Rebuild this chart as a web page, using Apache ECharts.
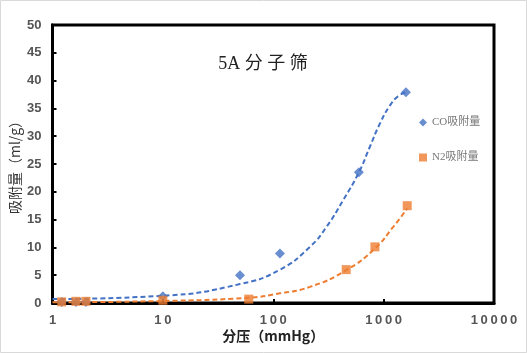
<!DOCTYPE html>
<html><head><meta charset="utf-8">
<script src="https://cdn.jsdelivr.net/npm/echarts@6/dist/echarts.min.js"></script>
<style>html,body{margin:0;padding:0;background:#fff}#c{width:527px;height:353px}</style>
</head><body><div id="c"></div>
<script>
// measured data
const coX = [1.21, 1.63, 2.01, 10, 50, 115, 597, 1592];
const coY = [0.2, 0.2, 0.2, 1.2, 5.0, 8.9, 23.5, 37.9];
const n2X = [1.21, 1.63, 2.01, 10, 60, 458, 834, 1636];
const n2Y = [0.2, 0.3, 0.3, 0.5, 0.7, 6.0, 10.1, 17.5];
// trend curves
const coTrendX = [1, 10, 50, 115, 215, 304, 430, 597, 751, 927, 1140, 1350, 1592];
const coTrendY = [0.7, 1.3, 3.4, 6.0, 10.1, 13.7, 18.5, 23.5, 28.1, 32.3, 35.5, 37.2, 37.9];
const n2TrendX = [1, 10, 60, 115, 215, 458, 834, 1222, 1636];
const n2TrendY = [0.12, 0.36, 0.96, 1.74, 2.9, 5.9, 9.8, 13.7, 17.0];
const xTicks = [1, 10, 100, 1000, 10000];
const yTicks = [0, 5, 10, 15, 20, 25, 30, 35, 40, 45, 50];

const zip = (a, b) => a.map((v, i) => [v, b[i]]);
const chart = echarts.init(document.getElementById('c'));
chart.setOption({
  animation: false,
  graphic: [{ type: 'rect', shape: { x: 0.5, y: 0.5, width: 526, height: 352 },
    style: { fill: 'none', stroke: '#d9d9d9', lineWidth: 1 }, z: 100 }],
  title: {
    text: '5A 分 子 筛', left: 258, top: 50, textAlign: 'center',
    textStyle: { fontFamily: 'Liberation Serif, Noto Sans CJK SC', fontSize: 18, fontWeight: 'normal', color: '#222' }
  },
  legend: {
    left: 414, top: 112, orient: 'vertical', itemGap: 24, itemWidth: 8, itemHeight: 8,
    data: [{ name: 'CO吸附量', icon: 'diamond' }, { name: 'N2吸附量', icon: 'rect' }],
    textStyle: { fontFamily: 'Liberation Serif, Noto Sans CJK SC', fontSize: 11, color: '#777' }
  },
  grid: { left: 52.5, right: 33, top: 25, bottom: 50, show: true, borderColor: '#000', borderWidth: 3,
    outerBoundsMode: 'none', containLabel: false },
  xAxis: {
    type: 'log', logBase: 10, min: 1, max: 10000,
    name: '分压（mmHg）', nameLocation: 'middle', nameGap: 26, nameMoveOverlap: false,
    nameTextStyle: { fontFamily: 'Noto Sans CJK SC', fontSize: 14, color: '#222', fontWeight: 'bold' },
    axisLine: { show: true, lineStyle: { color: '#000', width: 3 } },
    axisTick: { show: true, inside: true, length: 4, lineStyle: { color: '#000', width: 2 } },
    splitLine: { show: false },
    axisLabel: { margin: 11, fontFamily: 'Liberation Sans', fontWeight: 'bold', fontSize: 13, color: '#555',
      formatter: v => xTicks.includes(Math.round(v)) ? String(Math.round(v)).split('').join('\u2009') : '' }
  },
  yAxis: {
    type: 'value', min: 0, max: 50, interval: 5,
    name: '吸附量（ml/g）', nameLocation: 'middle', nameGap: 31, nameRotate: 90, nameMoveOverlap: false,
    nameTextStyle: { fontFamily: 'Noto Sans CJK SC', fontSize: 14, color: '#333' },
    axisLine: { show: true, lineStyle: { color: '#000', width: 3 } },
    axisTick: { show: true, inside: true, length: 4, lineStyle: { color: '#000', width: 2 } },
    splitLine: { show: false },
    axisLabel: { margin: 11, fontFamily: 'Liberation Sans', fontWeight: 'bold', fontSize: 13, color: '#555',
      formatter: v => yTicks.includes(v) ? String(v) : '' }
  },
  series: [
    { name: 'CO趋势', type: 'line', smooth: 0.5, symbol: 'none', data: zip(coTrendX, coTrendY),
      lineStyle: { color: '#4472C4', width: 2, type: [5, 3] }, z: 1 },
    { name: 'N2趋势', type: 'line', smooth: 0.5, symbol: 'none', data: zip(n2TrendX, n2TrendY),
      lineStyle: { color: '#ED7D31', width: 2, type: [5, 3] }, z: 1 },
    { name: 'CO吸附量', type: 'scatter', symbol: 'diamond', symbolSize: 10, data: zip(coX, coY),
      itemStyle: { color: '#4472C4' }, z: 3 },
    { name: 'N2吸附量', type: 'scatter', symbol: 'rect', symbolSize: 9, data: zip(n2X, n2Y),
      itemStyle: { color: '#ED7D31' }, z: 4 }
  ]
});
</script></body></html>
